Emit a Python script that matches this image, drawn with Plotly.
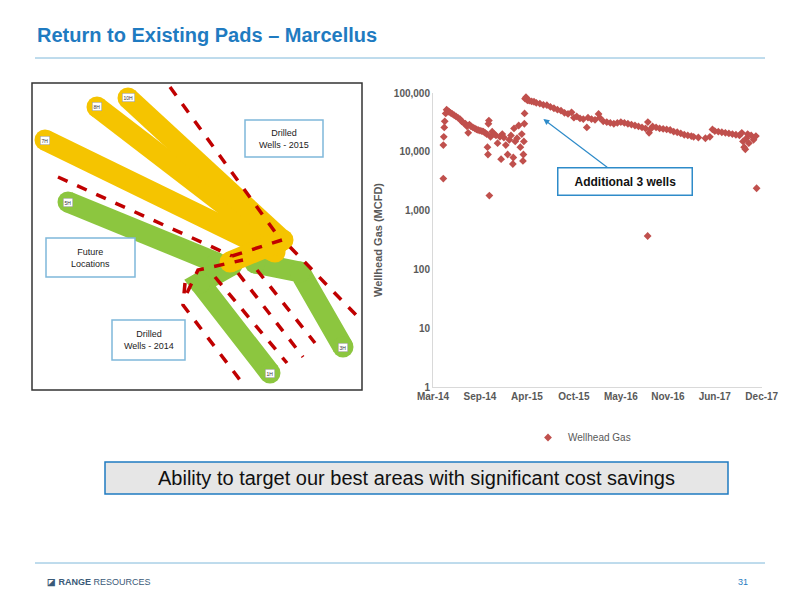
import math
import pandas as pd
import plotly.graph_objects as go

# Production data - day offset from 2014-03-01, wellhead gas (MCFD)
days = [44, 44, 46, 48, 50, 54, 58, 62, 68, 75, 82, 90, 98, 106, 115, 122, 130, 138, 145, 150,
        155, 162, 170, 178, 185, 192, 200, 208, 215, 222, 229, 232, 234, 236, 238, 240, 245, 252,
        260, 268, 275, 285, 290, 295, 302, 310, 318, 325, 332, 340, 342, 345, 350, 358, 365, 372,
        378, 383, 385, 387, 389, 390, 392, 396, 402, 410, 420, 430, 440, 455, 470, 485, 500, 515,
        530, 545, 560, 575, 590, 600, 612, 626, 640, 655, 660, 675, 690, 705, 710, 725, 740, 755,
        770, 785, 800, 815, 830, 845, 860, 875, 890, 905, 915, 920, 925, 935, 950, 965, 980, 995,
        1010, 1025, 1040, 1055, 1070, 1085, 1100, 1110, 1130, 1160, 1179, 1190, 1200, 1215, 1230,
        1245, 1260, 1275, 1290, 1305, 1315, 1320, 1325, 1330, 1335, 1340, 1345, 1355, 1365, 1375,
        1378, 914]
gas = [3500, 13000, 18000, 26000, 33000, 45000, 52000, 50000, 48000, 46000, 44000, 42000, 40000,
       38000, 36000, 33000, 31000, 30000, 27000, 21000, 29000, 27000, 26000, 25000, 24000, 23500,
       23000, 22500, 22000, 21000, 20000, 12000, 9000, 30000, 34000, 1800, 18000, 22000, 20000,
       19000, 14000, 18000, 7500, 20000, 17500, 13000, 9000, 16000, 19000, 6200, 8000, 25000, 15000,
       17000, 28000, 12000, 20000, 7000, 9000, 15000, 30000, 45000, 80000, 85000, 75000, 74000,
       72000, 71000, 68000, 66000, 63000, 62000, 58000, 55000, 52000, 50000, 46000, 44000, 47000,
       38000, 40000, 37000, 36000, 26000, 38000, 36000, 35000, 44000, 38000, 33000, 32000, 31000,
       30000, 31000, 32000, 31000, 30000, 29000, 28000, 27000, 26000, 25000, 32000, 21000, 24000,
       27000, 26000, 25000, 24500, 24000, 23500, 22000, 21500, 20500, 19500, 19000, 18500, 18000,
       17500, 17000, 18000, 24000, 22500, 22000, 21500, 21000, 20500, 20000, 19500, 19000, 21000,
       15000, 12000, 11000, 17000, 20000, 14000, 19000, 16000, 18500, 2400, 370]
dates = pd.Timestamp("2014-03-01") + pd.to_timedelta(days, unit="D")

tick_days = [0, 200, 400, 600, 800, 1000, 1200, 1400]
tick_text = ["Mar-14", "Sep-14", "Apr-15", "Oct-15", "May-16", "Nov-16", "Jun-17", "Dec-17"]
tick_vals = pd.Timestamp("2014-03-01") + pd.to_timedelta(tick_days, unit="D")

# Well diagram (pixel-like coordinates of the left panel)
wells_green = {
    "5H": ([68, 217], [202, 263]),
    "1H": ([232, 200, 270], [265, 283, 373]),
    "3H": ([255, 300, 343], [263, 272, 347]),
}
wells_yellow = {
    "7H": ([45, 275], [140, 252]),
    "8H": ([97, 277], [107, 245]),
    "10H": ([128, 282], [98, 240]),
    "": ([230, 283], [262, 240]),
}
future_lines = [
    ([170, 275], [87, 232]),
    ([290, 358], [247, 317]),
    ([58, 232], [177, 256]),
    ([232, 282], [256, 240]),
    ([187, 198, 243], [293, 270, 260]),
    ([185, 183, 240], [283, 305, 380]),
    ([215, 287], [277, 363]),
    ([238, 303], [273, 357]),
    ([257, 315], [270, 343]),
]
red = "#C00000"
blue = "#1F7BC1"

fig = go.Figure()

for name, (xs, ys) in wells_green.items():
    fig.add_trace(go.Scatter(x=xs, y=ys, xaxis="x2", yaxis="y2", mode="lines+markers",
                             line=dict(color="#8CC63F", width=21),
                             marker=dict(size=21, color="#8CC63F"), showlegend=False, hoverinfo="skip"))
for name, (xs, ys) in wells_yellow.items():
    fig.add_trace(go.Scatter(x=xs, y=ys, xaxis="x2", yaxis="y2", mode="lines+markers",
                             line=dict(color="#F5C400", width=21),
                             marker=dict(size=21, color="#F5C400"), showlegend=False, hoverinfo="skip"))
for xs, ys in future_lines:
    fig.add_trace(go.Scatter(x=xs, y=ys, xaxis="x2", yaxis="y2", mode="lines",
                             line=dict(color=red, width=3.5, dash="dash"),
                             showlegend=False, hoverinfo="skip"))

labels = {**wells_green, **wells_yellow}
for name, (xs, ys) in labels.items():
    if not name:
        continue
    i = 0 if name in ("5H", "7H", "8H", "10H") else -1
    fig.add_annotation(x=xs[i], y=ys[i], xref="x2", yref="y2", text=name, showarrow=False,
                       font=dict(size=5, color="#333"), bgcolor="white", bordercolor="#999",
                       borderwidth=0.5, borderpad=1)

fig.add_trace(go.Scatter(x=dates, y=gas, mode="markers", name="Wellhead Gas",
                         marker=dict(symbol="diamond", size=6, color="#C0504D")))

boxes = [("Drilled<br>Wells - 2015", 245, 323, 120, 157),
         ("Future<br>Locations", 46, 135, 238, 277),
         ("Drilled<br>Wells - 2014", 112, 185, 320, 360)]
for txt, x0, x1, y0, y1 in boxes:
    fig.add_shape(type="rect", xref="x2", yref="y2", x0=x0, x1=x1, y0=y0, y1=y1,
                  fillcolor="white", line=dict(color="#7FB8DA", width=1.5))
    fig.add_annotation(x=(x0 + x1) / 2, y=(y0 + y1) / 2, xref="x2", yref="y2", text=txt,
                       showarrow=False, font=dict(size=9, color="#222", family="Arial"))

fig.add_shape(type="rect", xref="paper", yref="paper", x0=32 / 800, x1=362 / 800,
              y0=1 - 390 / 600, y1=1 - 83 / 600, line=dict(color="#333", width=1.5))

# log axis: annotation y is given in log10 units
fig.add_annotation(x=dates[days.index(470)], y=math.log10(36000), ax=82, ay=62,
                   text="   <b>Additional 3 wells</b>   ",
                   showarrow=True, arrowhead=2, arrowsize=1, arrowwidth=1.2, arrowcolor="#2E8BC9",
                   bgcolor="white", bordercolor="#2E8BC9", borderwidth=1.5, borderpad=6,
                   font=dict(size=12, color="#111", family="Arial"))

# Slide furniture
fig.add_annotation(x=35 / 800, y=1 - 35 / 600, xref="paper", yref="paper", xanchor="left", yanchor="middle",
                   text="<b>Return to Existing Pads – Marcellus</b>", showarrow=False,
                   font=dict(size=20, color=blue, family="Arial"))
fig.add_shape(type="line", xref="paper", yref="paper", x0=35 / 800, x1=765 / 800,
              y0=1 - 58 / 600, y1=1 - 58 / 600, line=dict(color="#7FB8DA", width=1))
fig.add_shape(type="rect", xref="paper", yref="paper", x0=105 / 800, x1=728 / 800,
              y0=1 - 494 / 600, y1=1 - 462 / 600, fillcolor="#E6E6E6", line=dict(color=blue, width=1.5))
fig.add_annotation(x=416 / 800, y=1 - 478 / 600, xref="paper", yref="paper", xanchor="center", yanchor="middle",
                   text="Ability to target our best areas with significant cost savings", showarrow=False,
                   font=dict(size=20, color="#111", family="Arial"))
fig.add_shape(type="line", xref="paper", yref="paper", x0=35 / 800, x1=765 / 800,
              y0=1 - 563 / 600, y1=1 - 563 / 600, line=dict(color="#7FB8DA", width=1))
fig.add_annotation(x=45 / 800, y=1 - 582 / 600, xref="paper", yref="paper", xanchor="left", yanchor="middle",
                   text="<b>◪ RANGE</b> RESOURCES", showarrow=False,
                   font=dict(size=9, color="#3A5A78", family="Arial"))
fig.add_annotation(x=750 / 800, y=1 - 582 / 600, xref="paper", yref="paper", xanchor="right", yanchor="middle",
                   text="31", showarrow=False, font=dict(size=9, color=blue, family="Arial"))

fig.update_layout(
    width=800, height=600, margin=dict(l=0, r=0, t=0, b=0, autoexpand=False),
    paper_bgcolor="white", plot_bgcolor="white",
    font=dict(family="Arial", color="#595959"),
    xaxis=dict(domain=[433 / 800, 762 / 800], range=[pd.Timestamp("2014-03-01"), pd.Timestamp("2017-12-31")],
               tickvals=tick_vals, ticktext=["<b>%s</b>" % t for t in tick_text], showgrid=False,
               showline=True, linecolor="#D9D9D9", automargin=False,
               tickfont=dict(size=10, color="#595959", family="Arial"), ticks=""),
    yaxis=dict(domain=[1 - 387 / 600, 1 - 93 / 600], type="log", range=[0, 5],
               tickvals=[1, 10, 100, 1000, 10000, 100000],
               ticktext=["<b>1</b>", "<b>10</b>", "<b>100</b>", "<b>1,000</b>", "<b>10,000</b>", "<b>100,000</b>"],
               showgrid=False, showline=True, linecolor="#D9D9D9", ticks="", automargin=False,
               tickfont=dict(size=10, color="#595959", family="Arial"),
               title=dict(text="<b>Wellhead Gas (MCFD)</b>", font=dict(size=11, color="#595959"), standoff=8)),
    xaxis2=dict(domain=[32 / 800, 362 / 800], range=[32, 362], visible=False, anchor="y2"),
    yaxis2=dict(domain=[1 - 390 / 600, 1 - 83 / 600], range=[390, 83], visible=False, anchor="x2"),
    legend=dict(x=0.66, y=1 - 423 / 600, xanchor="left", yanchor="top", font=dict(size=10, color="#595959")),
)

fig.write_html("out.html", config={"displayModeBar": False},
               post_script="document.body.style.margin='0';document.body.style.overflow='hidden';")
